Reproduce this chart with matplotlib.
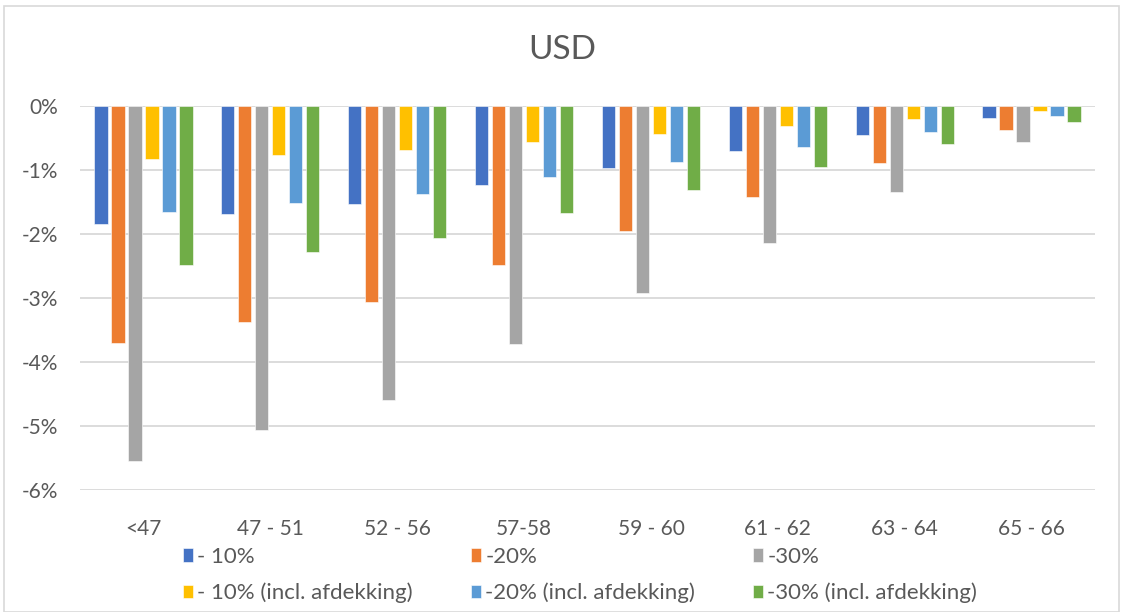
import numpy as np
import matplotlib.pyplot as plt
from matplotlib.patches import Rectangle

plt.rcParams['font.family'] = ['Lato', 'DejaVu Sans']

# --- Data (percent change) ---
categories = ['<47', '47 - 51', '52 - 56', '57-58', '59 - 60', '61 - 62', '63 - 64', '65 - 66']
series_names = ['- 10%', '-20%', '-30%',
                '- 10% (incl. afdekking)', '-20% (incl. afdekking)', '-30% (incl. afdekking)']

min10 = [-1.85, -1.69, -1.53, -1.24, -0.97, -0.71, -0.45, -0.18]
min20 = [-3.70, -3.38, -3.06, -2.48, -1.95, -1.42, -0.89, -0.37]
min30 = [-5.54, -5.07, -4.59, -3.72, -2.92, -2.14, -1.34, -0.56]
min10_hedged = [-0.83, -0.76, -0.69, -0.56, -0.44, -0.32, -0.20, -0.08]
min20_hedged = [-1.66, -1.52, -1.38, -1.11, -0.88, -0.64, -0.40, -0.16]
min30_hedged = [-2.49, -2.28, -2.07, -1.67, -1.32, -0.96, -0.60, -0.25]

series = [min10, min20, min30, min10_hedged, min20_hedged, min30_hedged]
colors = ['#4472C4', '#ED7D31', '#A5A5A5', '#FFC000', '#5B9BD5', '#70AD47']
text_color = '#595959'

W, H = 1124, 612
fig = plt.figure(figsize=(W / 100, H / 100), dpi=100)

# chart border
fig.patches.append(Rectangle((3.5 / W, 0), (1119 - 3.5) / W, 1 - 6 / H,
                             transform=fig.transFigure, fill=False,
                             edgecolor='#d9d9d9', lw=1.2))

ax = fig.add_axes([80 / W, 1 - 490 / H, (1095 - 80) / W, (490 - 106) / H])

x = np.arange(len(categories))
step = 0.134
width = 0.105
handles = []
for i, (vals, color) in enumerate(zip(series, colors)):
    offset = (i - 2.5) * step
    b = ax.bar(x + offset, np.array(vals) / 100, width, color=color,
               edgecolor='white', linewidth=0.4, label=series_names[i], zorder=3)
    handles.append(b)

ax.set_xlim(-0.5, len(categories) - 0.5)
ax.set_ylim(-0.06, 0)
yt = np.arange(-0.06, 0.001, 0.01)
ax.set_yticks(yt)
ax.set_yticklabels([f'{round(v * 100):d}%' for v in yt])
ax.set_xticks(x)
ax.set_xticklabels(categories)
ax.grid(axis='y', color='#d9d9d9', lw=1.3, zorder=0)
ax.set_axisbelow(True)
for s in ax.spines.values():
    s.set_visible(False)
ax.tick_params(axis='both', length=0, labelsize=15, colors=text_color)
ax.tick_params(axis='y', pad=16)
ax.tick_params(axis='x', pad=21)

fig.text(0.5, 1 - 50 / H, 'USD', ha='center', va='center',
         fontsize=24, color=text_color)

# legend laid out column-wise: reorder so rows read across
order = [0, 3, 1, 4, 2, 5]
leg = fig.legend([handles[i] for i in order], [series_names[i] for i in order],
                 ncol=3, loc='center left', bbox_to_anchor=(183 / W, 1 - 575 / H),
                 frameon=False, fontsize=16, handlelength=0.45, handleheight=0.55,
                 handletextpad=0.2, columnspacing=2.6, labelspacing=0.7,
                 borderpad=0, borderaxespad=0)
for t in leg.get_texts():
    t.set_color(text_color)

plt.savefig('out.png', dpi=100)
